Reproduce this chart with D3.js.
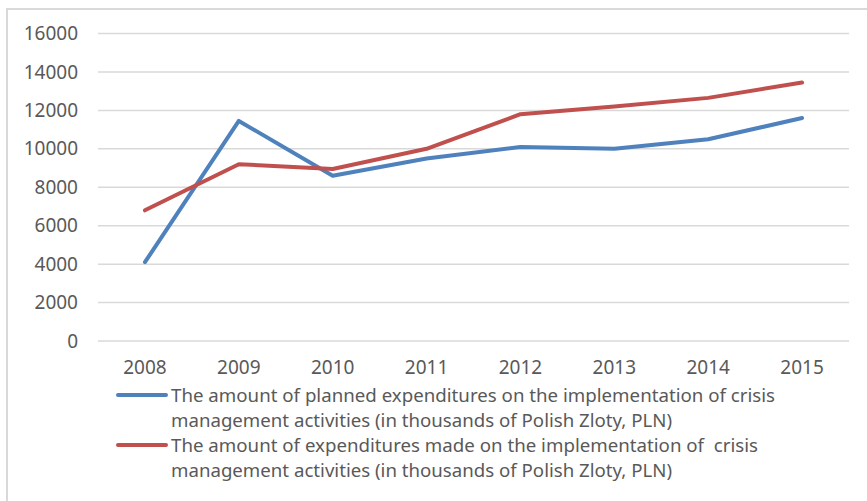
<!DOCTYPE html>
<html>
<head>
<meta charset="utf-8">
<script src="https://cdn.jsdelivr.net/npm/d3@7"></script>
<style>
  html, body { margin: 0; padding: 0; background: #fff; }
  svg { display: block; }
  text { font-family: "Noto Sans", "Open Sans", sans-serif; fill: #595959; }
</style>
</head>
<body>
<svg id="chart" width="867" height="501"></svg>
<script>
// Crisis management expenditures, 2008-2015 (thousands of PLN)
const years = ["2008", "2009", "2010", "2011", "2012", "2013", "2014", "2015"];
const planned = [4100, 11450, 8600, 9500, 10100, 10000, 10500, 11600];
const made = [6800, 9200, 8950, 10000, 11800, 12200, 12650, 13450];
const yTicks = [0, 2000, 4000, 6000, 8000, 10000, 12000, 14000, 16000];
const seriesNames = [
  ["The amount of planned expenditures on the implementation of crisis",
   "management activities (in thousands of Polish Zloty, PLN)"],
  ["The amount of expenditures made on the implementation of  crisis",
   "management activities (in thousands of Polish Zloty, PLN)"]
];
const seriesColors = ["#4f81bd", "#c0504d"];

const svg = d3.select("#chart");

// outer frame (left and top edges visible)
svg.append("path")
  .attr("d", "M7,501 V9 H867")
  .attr("fill", "none")
  .attr("stroke", "#d9d9d9")
  .attr("stroke-width", 2);

const x = d3.scaleBand().domain(years).range([98, 849]);
const y = d3.scaleLinear().domain([0, 16000]).range([341, 33.5]);

// horizontal gridlines
svg.append("g")
  .selectAll("line")
  .data(yTicks)
  .join("line")
  .attr("x1", 98).attr("x2", 849)
  .attr("y1", d => y(d)).attr("y2", d => y(d))
  .attr("stroke", "#d9d9d9")
  .attr("stroke-width", 1.5);

// y axis labels
const yAxis = d3.axisLeft(y).tickValues(yTicks).tickSize(0).tickPadding(0)
  .tickFormat(d3.format("d"));
svg.append("g")
  .attr("transform", "translate(78,0)")
  .call(yAxis)
  .call(g => g.select(".domain").remove())
  .call(g => g.selectAll("text")
    .attr("font-size", "19px")
    .attr("fill", "#595959")
    .attr("font-family", "'Noto Sans', sans-serif"));

// x axis labels
const xAxis = d3.axisBottom(x).tickSize(0).tickPadding(0);
svg.append("g")
  .attr("transform", "translate(0,360)")
  .call(xAxis)
  .call(g => g.select(".domain").remove())
  .call(g => g.selectAll("text")
    .attr("font-size", "19px")
    .attr("fill", "#595959")
    .attr("font-family", "'Noto Sans', sans-serif"));

// series lines
const line = d3.line()
  .x((d, i) => x(years[i]) + x.bandwidth() / 2)
  .y(d => y(d));

[planned, made].forEach((vals, k) => {
  svg.append("path")
    .datum(vals)
    .attr("d", line)
    .attr("fill", "none")
    .attr("stroke", seriesColors[k])
    .attr("stroke-width", 4)
    .attr("stroke-linejoin", "round")
    .attr("stroke-linecap", "round");
});

// legend
const legendRows = [[775, 672], [758, 672]];
const legend = svg.append("g");
seriesNames.forEach((lines, k) => {
  const top = 395 + k * 50;
  legend.append("line")
    .attr("x1", 118).attr("x2", 166)
    .attr("y1", top).attr("y2", top)
    .attr("stroke", seriesColors[k])
    .attr("stroke-width", 4)
    .attr("stroke-linecap", "round");
  lines.forEach((t, j) => {
    legend.append("text")
      .attr("x", 171)
      .attr("y", top + 7 + j * 25)
      .attr("font-size", "18.5px")
      .attr("textLength", legendRows[k][j] - 171)
      .attr("lengthAdjust", "spacingAndGlyphs")
      .style("white-space", "pre")
      .text(t);
  });
});
</script>
</body>
</html>
